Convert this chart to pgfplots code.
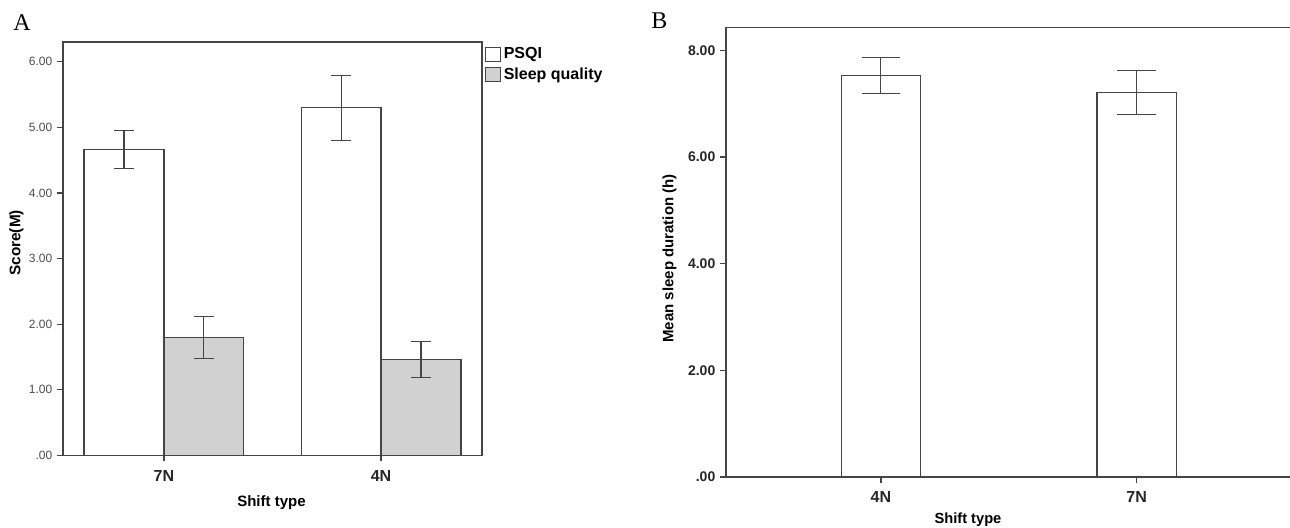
\documentclass[border=0pt]{standalone}
\usepackage{fontspec}
\setmainfont{Liberation Sans}
\newfontfamily\panelfont{Liberation Serif}
\usepackage{pgfplots}
\pgfplotsset{compat=1.18}

\definecolor{axgray}{gray}{0.27}
\definecolor{sqfill}{gray}{0.82}

\pgfplotsset{
  spss/.style={
    scale only axis,
    axis line style={axgray, line width=0.9pt},
    tick style={axgray, line width=0.9pt},
    tick align=outside,
    major tick length=4.5pt,
    xtick pos=bottom, ytick pos=left,
    ymin=0,
    /pgf/number format/assume math mode=true,
    xticklabel style={font=\bfseries\fontsize{12}{14}\selectfont, text=black!85, yshift=-3pt},
    every axis plot/.append style={draw=axgray, line width=0.9pt},
    area legend,
    legend image code/.code={\draw[##1] (0pt,-5.25pt) rectangle (11.25pt,5.25pt);},
  },
}

\begin{document}
\begin{tikzpicture}
\useasboundingbox (0,0) rectangle (967.5pt,396pt);

% panel labels
\node[anchor=base west, inner sep=0pt, font=\panelfont\fontsize{18}{20}\selectfont] at (9.75pt,372.75pt) {A};
\node[anchor=base west, inner sep=0pt, font=\panelfont\fontsize{18}{20}\selectfont] at (488.25pt,374.25pt) {B};

% Panel A
\begin{axis}[spss,
  at={(47.25pt,54.5pt)}, anchor=south west,
  width=314.25pt, height=310pt,
  xmin=-0.465, xmax=1.465, ymax=6.3,
  xtick={0,1}, xticklabels={7N,4N},
  ytick={0,1,2,3,4,5,6},
  yticklabels={.00,1.00,2.00,3.00,4.00,5.00,6.00},
  yticklabel style={font=\fontsize{9}{11}\selectfont, text=black!70},
  xlabel={Shift type}, ylabel={Score(M)},
  xlabel style={font=\bfseries\fontsize{11.25}{13}\selectfont, at={(axis description cs:0.4976,-0.125)}, anchor=base},
  ylabel style={font=\bfseries\fontsize{11.5}{13}\selectfont, at={(axis description cs:-0.111,0.514)}, anchor=center},
  bar width=0.368,
  legend style={at={(1,1)}, anchor=north west, draw=none, fill=none,
    font=\bfseries\fontsize{12}{14}\selectfont, inner sep=1pt, row sep=1pt,
    xshift=1pt, yshift=-1pt},
  legend cell align=left,
]
\addplot[ybar, bar shift=0pt, fill=white,
  error bars/.cd, y dir=both, y explicit,
  error bar style={axgray, line width=0.8pt},
  error mark options={rotate=90, mark size=7.5pt, axgray, line width=0.8pt}]
  coordinates {(-0.184,4.66) +- (0,0.285) (0.816,5.30) +- (0,0.495)};
\addlegendentry{PSQI}
\addplot[ybar, bar shift=0pt, fill=sqfill,
  error bars/.cd, y dir=both, y explicit,
  error bar style={axgray, line width=0.8pt},
  error mark options={rotate=90, mark size=7.5pt, axgray, line width=0.8pt}]
  coordinates {(0.184,1.79) +- (0,0.32) (1.184,1.46) +- (0,0.27)};
\addlegendentry{Sleep quality}
\end{axis}

% Panel B
\begin{axis}[spss,
  at={(544.5pt,38.25pt)}, anchor=south west,
  width=430.5pt, height=337.25pt,
  xmin=-0.606, xmax=1.639, ymax=8.43,
  xtick={0,1}, xticklabels={4N,7N},
  ytick={0,2,4,6,8},
  yticklabels={.00,2.00,4.00,6.00,8.00},
  yticklabel style={font=\bfseries\fontsize{10.5}{12}\selectfont, text=black!85},
  xlabel={Shift type}, ylabel={Mean sleep duration (h)},
  xlabel style={font=\bfseries\fontsize{11}{13}\selectfont, at={(axis description cs:0.4216,-0.1045)}, anchor=base},
  ylabel style={font=\bfseries\fontsize{11.25}{13}\selectfont, at={(axis description cs:-0.0984,0.486)}, anchor=center},
  bar width=0.3105,
]
\addplot[ybar, bar shift=0pt, fill=white,
  error bars/.cd, y dir=both, y explicit,
  error bar style={axgray, line width=0.8pt},
  error mark options={rotate=90, mark size=14.5pt, axgray, line width=0.8pt}]
  coordinates {(0,7.525) +- (0,0.335) (1,7.21) +- (0,0.415)};
\end{axis}
\end{tikzpicture}
\end{document}
